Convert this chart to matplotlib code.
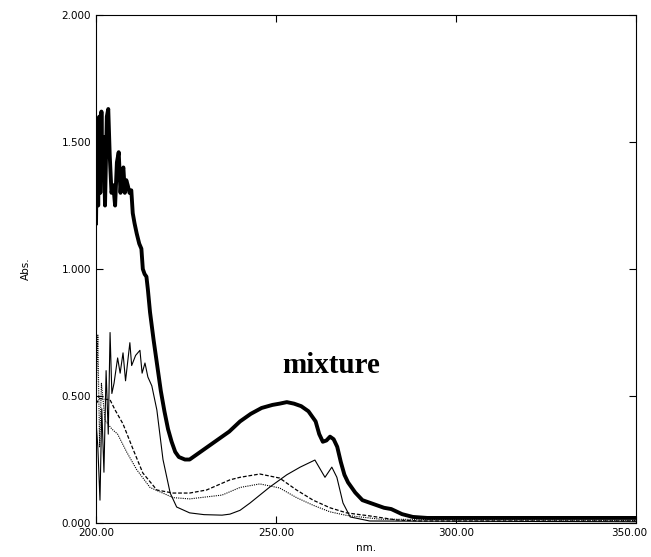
import numpy as np
import matplotlib
matplotlib.use("Agg")
import matplotlib.pyplot as plt
import matplotlib.transforms as mtransforms
from matplotlib.ticker import FormatStrFormatter

# mixture (thick)
mix_nm = [200.0, 200.3, 200.6, 200.9, 201.2, 201.5, 201.8, 202.1, 202.5, 203.0, 203.4, 203.8,
          204.3, 204.8, 205.3, 205.8, 206.3, 206.8, 207.2, 207.6, 208.0, 208.4, 208.8, 209.3,
          209.8, 210.2, 210.7, 211.3, 212.0, 212.6, 213.0, 213.5, 214.0, 214.4, 215.0, 216.0,
          217.0, 218.0, 219.0, 220.0, 221.0, 222.0, 223.0, 224.7, 226.0, 228.0, 230.0, 233.0,
          237.0, 240.0, 243.0, 246.0, 249.0, 251.0, 253.0, 255.0, 257.0, 259.0, 261.0, 262.0,
          263.0, 264.0, 265.0, 266.0, 267.0, 268.0, 269.0, 270.0, 272.0, 274.0, 277.0, 280.0,
          282.0, 285.0, 288.0, 292.0, 350.0]
mix_abs = [1.18, 1.55, 1.25, 1.60, 1.30, 1.62, 1.35, 1.52, 1.25, 1.60, 1.63, 1.45,
           1.30, 1.33, 1.25, 1.42, 1.46, 1.30, 1.38, 1.40, 1.30, 1.35, 1.33, 1.30,
           1.31, 1.22, 1.18, 1.14, 1.10, 1.08, 1.00, 0.98, 0.97, 0.92, 0.83, 0.72,
           0.62, 0.52, 0.44, 0.37, 0.32, 0.28, 0.26, 0.25, 0.25, 0.27, 0.29, 0.32,
           0.36, 0.40, 0.43, 0.453, 0.465, 0.47, 0.476, 0.47, 0.46, 0.44, 0.40, 0.35,
           0.32, 0.325, 0.34, 0.33, 0.30, 0.24, 0.19, 0.16, 0.12, 0.09, 0.075, 0.06,
           0.055, 0.035, 0.024, 0.02, 0.02]

# component A (thin solid)
a_nm = [200.0, 200.5, 201.1, 201.6, 202.2, 202.8, 203.4, 203.9, 204.4, 205.0, 206.0, 206.7,
        207.5, 208.2, 209.4, 209.9, 211.0, 212.2, 212.8, 213.6, 214.4, 215.5, 216.9, 218.6,
        220.6, 222.4, 226.0, 230.0, 235.0, 237.2, 240.0, 242.8, 248.3, 253.0, 256.7, 260.8,
        263.6, 265.5, 266.9, 268.6, 270.6, 276.0, 350.0]
a_abs = [0.40, 0.30, 0.09, 0.45, 0.20, 0.60, 0.35, 0.75, 0.51, 0.55, 0.65, 0.59,
         0.67, 0.56, 0.71, 0.62, 0.66, 0.68, 0.59, 0.63, 0.575, 0.54, 0.445, 0.25,
         0.118, 0.063, 0.04, 0.033, 0.031, 0.035, 0.05, 0.079, 0.142, 0.19, 0.22, 0.248,
         0.18, 0.22, 0.18, 0.079, 0.024, 0.008, 0.005]

# component B (dashed)
b_nm = [200.0, 201.0, 203.9, 205.3, 207.5, 210.3, 213.0, 216.9, 221.4, 226.0, 230.7, 237.2,
        240.0, 245.5, 251.0, 255.7, 260.3, 265.0, 269.6, 276.0, 283.5, 290.0, 350.0]
b_abs = [0.47, 0.49, 0.485, 0.445, 0.39, 0.29, 0.197, 0.13, 0.118, 0.118, 0.13, 0.17,
         0.18, 0.193, 0.177, 0.13, 0.09, 0.06, 0.04, 0.028, 0.012, 0.008, 0.008]

# component C (dotted)
c_nm = [200.0, 200.5, 201.0, 201.5, 202.5, 204.4, 206.0, 208.5, 211.3, 215.0, 221.4, 226.0,
        235.0, 240.0, 245.5, 251.0, 255.7, 260.3, 265.0, 269.6, 279.0, 350.0]
c_abs = [0.45, 0.74, 0.30, 0.55, 0.405, 0.37, 0.35, 0.28, 0.21, 0.14, 0.10, 0.095,
         0.11, 0.14, 0.154, 0.138, 0.10, 0.07, 0.044, 0.03, 0.015, 0.01]

fig = plt.figure(figsize=(6.51, 5.57), dpi=100)
ax = fig.add_axes([0.1475, 0.061, 0.8295, 0.912])

ax.plot(c_nm, c_abs, color="black", lw=0.8, ls=(0, (1, 1)))
ax.plot(b_nm, b_abs, color="black", lw=0.9, ls=(0, (3, 1.5)))
ax.plot(a_nm, a_abs, color="black", lw=0.8)
ax.plot(mix_nm, mix_abs, color="black", lw=2.8)

ax.text(265.3, 0.62, "mixture", fontsize=21, fontweight="bold",
        family="Liberation Serif", ha="center", va="center")

ax.set_xlim(200, 350)
ax.set_ylim(0, 2)
ax.set_xticks([200, 250, 300, 350])
ax.set_yticks([0, 0.5, 1.0, 1.5, 2.0])
ax.xaxis.set_major_formatter(FormatStrFormatter("%.2f"))
ax.yaxis.set_major_formatter(FormatStrFormatter("%.3f"))
ax.tick_params(direction="in", length=5, width=0.8, labelsize=7.5, right=True, top=True)
for s in ax.spines.values():
    s.set_linewidth(0.8)

# 最后一个刻度标签往左挪一点，避免被裁掉
last = ax.get_xticklabels()[-1]
last.set_transform(last.get_transform() + mtransforms.ScaledTranslation(-5 / 72, 0, fig.dpi_scale_trans))

ax.set_xlabel("nm.", fontsize=7.5, labelpad=4)
ax.set_ylabel("Abs.", fontsize=7.5, labelpad=22)

fig.savefig("out.png", dpi=100)
